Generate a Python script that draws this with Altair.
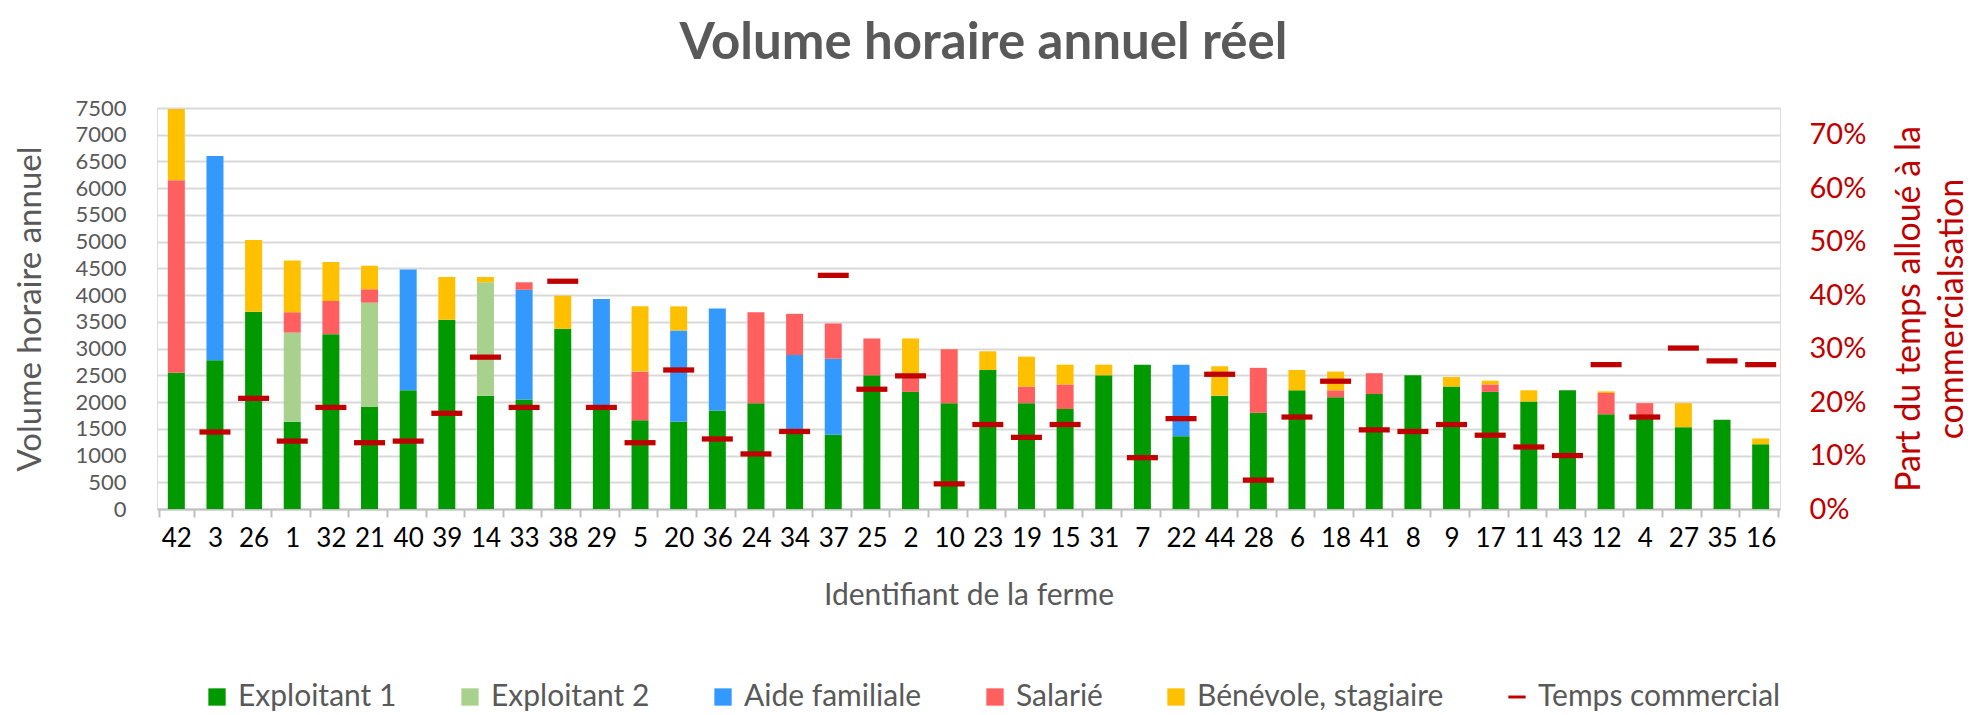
import altair as alt
import pandas as pd

fermes = ["42", "3", "26", "1", "32", "21", "40", "39", "14", "33", "38", "29", "5", "20",
          "36", "24", "34", "37", "25", "2", "10", "23", "19", "15", "31", "7", "22", "44",
          "28", "6", "18", "41", "8", "9", "17", "11", "43", "12", "4", "27", "35", "16"]

exploitant1 = [2550, 2780, 3690, 1630, 3270, 1910, 2220, 3540, 2120, 2050, 3370, 1900, 1660, 1630,
               1840, 1980, 1420, 1390, 2500, 2190, 1980, 2600, 1980, 1870, 2500, 2700, 1360, 2120,
               1800, 2220, 2090, 2150, 2500, 2290, 2190, 2010, 2220, 1770, 1700, 1530, 1670, 1210]
exploitant2 = [0, 0, 0, 1670, 0, 1950, 0, 0, 2120, 0, 0, 0, 0, 0,
               0, 0, 0, 0, 0, 0, 0, 0, 0, 0, 0, 0, 0, 0,
               0, 0, 0, 0, 0, 0, 0, 0, 0, 0, 0, 0, 0, 0]
aide_familiale = [0, 3820, 0, 0, 0, 0, 2260, 0, 0, 2050, 0, 2030, 0, 1710,
                  1910, 0, 1460, 1420, 0, 0, 0, 0, 0, 0, 0, 0, 1340, 0,
                  0, 0, 0, 0, 0, 0, 0, 0, 0, 0, 0, 0, 0, 0]
salarie = [3600, 0, 0, 380, 620, 250, 0, 0, 0, 140, 0, 0, 910, 0,
           0, 1700, 770, 660, 690, 290, 1010, 0, 310, 460, 0, 0, 0, 0,
           840, 0, 130, 390, 0, 0, 140, 0, 0, 400, 280, 0, 0, 0]
benevole = [1330, 0, 1340, 970, 730, 440, 0, 800, 100, 0, 620, 0, 1220, 450,
            0, 0, 0, 0, 0, 710, 0, 350, 560, 370, 200, 0, 0, 550,
            0, 380, 350, 0, 0, 180, 70, 210, 0, 30, 0, 450, 0, 110]
temps_commercial = [None, 0.144, 0.207, 0.127, 0.190, 0.124, 0.127, 0.179, 0.284, 0.190, 0.426, 0.190, 0.124, 0.260,
                    0.131, 0.103, 0.145, 0.437, 0.224, 0.249, 0.047, 0.158, 0.134, 0.158, None, 0.096, 0.169, 0.252,
                    0.054, 0.172, 0.239, 0.148, 0.145, 0.158, 0.138, 0.116, 0.100, 0.270, 0.172, 0.301, 0.277, 0.270]

series = ["Exploitant 1", "Exploitant 2", "Aide familiale", "Salarié", "Bénévole, stagiaire"]
couleurs = ["#009900", "#A9D18E", "#3399FF", "#FF5F5F", "#FFC000"]
legend_domain = series + ["Temps commercial"]
legend_colors = couleurs + ["#C00000"]
dash = "M-1,-0.17H1V0.17H-1Z"

valeurs = [exploitant1, exploitant2, aide_familiale, salarie, benevole]
rows = []
for i, f in enumerate(fermes):
    for k, s in enumerate(series):
        v = valeurs[k][i]
        if v > 0:
            rows.append({"ferme": f, "serie": s, "heures": v, "ordre": k})
bars_df = pd.DataFrame(rows)

tc_rows = [{"ferme": f, "part": p, "serie": "Temps commercial"}
           for f, p in zip(fermes, temps_commercial) if p is not None]
tc_df = pd.DataFrame(tc_rows)

FONT = "Lato"
GRAY = "#595959"
RED = "#C00000"

color_scale = alt.Scale(domain=legend_domain, range=legend_colors)
shape_scale = alt.Scale(domain=legend_domain, range=["square"] * 5 + [dash])

leg = alt.Legend(
    title=None, orient="none", direction="horizontal", legendX=45, legendY=574,
    labelFontSize=30, labelColor=GRAY, labelFont=FONT, labelLimit=0,
    symbolSize=300, symbolStrokeWidth=0, symbolOpacity=1,
    columnPadding=58, labelOffset=6,
)

x_enc = alt.X(
    "ferme:N", sort=fermes, title="Identifiant de la ferme",
    axis=alt.Axis(
        labelAngle=0, labelFontSize=26, labelColor="#000000", labelFont=FONT,
        labelPadding=8, tickBand="extent", tickSize=8, tickColor="#BFBFBF", tickWidth=2,
        domainColor="#BFBFBF", domainWidth=2, grid=False, labelOverlap=False,
        titleFontSize=30, titleColor=GRAY, titleFont=FONT, titleFontWeight="normal",
        titlePadding=29,
    ),
)

bars = alt.Chart(bars_df).mark_bar(size=17).encode(
    x=x_enc,
    y=alt.Y(
        "heures:Q", stack="zero",
        scale=alt.Scale(domain=[0, 7500], nice=False),
        axis=alt.Axis(
            values=list(range(0, 7501, 500)), format="d", title="Volume horaire annuel",
            labelFontSize=22, labelColor=GRAY, labelFont=FONT, labelPadding=31,
            labelOverlap=False,
            domain=False, ticks=False, grid=True, gridColor="#D9D9D9", gridWidth=2,
            titleFontSize=33, titleColor=GRAY, titleFont=FONT, titleFontWeight="normal",
            titlePadding=27,
        ),
    ),
    color=alt.Color("serie:N", scale=color_scale, legend=leg),
    order=alt.Order("ordre:Q", sort="ascending"),
)

ticks = alt.Chart(tc_df).mark_point(filled=True, opacity=1, size=961, strokeWidth=0).encode(
    x=alt.X("ferme:N", sort=fermes),
    y=alt.Y(
        "part:Q",
        scale=alt.Scale(domain=[0, 0.75], nice=False),
        axis=alt.Axis(
            orient="right", format=".0%", values=[0, 0.1, 0.2, 0.3, 0.4, 0.5, 0.6, 0.7],
            title=["Part du temps alloué à la", "commercialsation"],
            labelFontSize=29, labelColor=RED, labelFont=FONT, labelPadding=29,
            labelOverlap=False,
            domain=False, ticks=False, grid=False,
            titleFontSize=34, titleColor=RED, titleFont=FONT, titleFontWeight="normal",
            titleAngle=270, titleLineHeight=43, titlePadding=18,
        ),
    ),
    color=alt.Color("serie:N", scale=color_scale, legend=leg),
    shape=alt.Shape("serie:N", scale=shape_scale, legend=leg),
)

chart = alt.layer(bars, ticks).resolve_scale(y="independent").properties(
    width=1623, height=401,
    title=alt.TitleParams(
        "Volume horaire annuel réel", fontSize=51, font=FONT, fontWeight="bold",
        color=GRAY, anchor="middle", offset=27, dx=15,
    ),
    padding={"left": 6, "right": 0, "top": 10, "bottom": 0},
).configure_view(stroke=None).configure(font=FONT)

chart.save("out.html", embed_options={"renderer": "svg", "actions": False})
